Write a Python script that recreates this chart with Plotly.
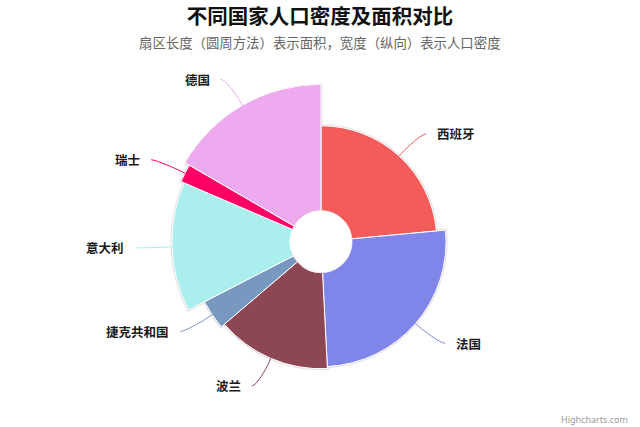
import numpy as np
import plotly.graph_objects as go

# ---- data ----
countries = ["西班牙", "法国", "波兰", "捷克共和国", "意大利", "瑞士", "德国"]
area_km2 = [505370, 551500, 312685, 78867, 301340, 41277, 357022]
density = [92.9, 118.7, 124.6, 137.5, 201.8, 214.5, 235.6]
colors = ["#f45b5b", "#8085e9", "#8d4654", "#7798bf", "#aaeeee", "#ff0066", "#eeaaee"]

title_text = "不同国家人口密度及面积对比"
subtitle_text = "扇区长度（圆周方法）表示面积，宽度（纵向）表示人口密度"

# ---- geometry (pixels) ----
W, H = 640, 427
CX, CY = 321.0, 241.7
R_OUT = 157.4
R_HOLE = 31.0
R_MIN = 46.0
LABEL_DIST = 30.0

area = np.array(area_km2, float)
widths = area / area.sum() * 360.0
starts = np.concatenate([[0.0], np.cumsum(widths)[:-1]])
centers = starts + widths / 2.0

z = np.array(density, float)
pos = np.sqrt(z / z.max())             # size by area, zMin = 0
lo = (R_HOLE - R_MIN) / (R_OUT - R_MIN)  # radial value at the hole edge

fig = go.Figure()
# faint shadow ring under the slices
fig.add_trace(go.Barpolar(
    r=pos - lo, base=[lo] * len(pos), theta=centers, width=widths,
    marker=dict(color="rgba(0,0,0,0)", line=dict(color="rgba(120,100,110,0.2)", width=3)),
    hoverinfo="skip", showlegend=False,
))
fig.add_trace(go.Barpolar(
    r=pos - lo, base=[lo] * len(pos), theta=centers, width=widths,
    marker=dict(color=colors, line=dict(color="white", width=1)),
    text=countries, hoverinfo="text", showlegend=False,
))

def to_px(rpx, ang):
    a = np.radians(ang)
    return CX + rpx * np.sin(a), CY - rpx * np.cos(a)

def paper(x, y):
    return x / W, 1 - y / H

shapes = []
annotations = []
for name, p, ang, col in zip(countries, pos, centers, colors):
    r_edge = R_MIN + p * (R_OUT - R_MIN)
    tx, ty = to_px(r_edge, ang)
    bx, by = to_px(r_edge + 5, ang)
    ax, ay = to_px(r_edge + LABEL_DIST, ang)
    s = 1 if np.sin(np.radians(ang)) > 0 else -1
    lx, ly = ax + s * 7, ay
    c1x, c1y = lx - s * 5, ly
    c2x, c2y = 2 * bx - tx, 2 * by - ty
    pts = [paper(lx, ly), paper(c1x, c1y), paper(c2x, c2y), paper(bx, by), paper(tx, ty)]
    path = "M {} {} C {} {} {} {} {} {} L {} {}".format(
        *[f"{v:.5f}" for pt in pts for v in pt])
    shapes.append(dict(type="path", xref="paper", yref="paper", path=path,
                       line=dict(color=col, width=1)))
    px_, py_ = paper(ax + s * 16, ay)
    annotations.append(dict(x=px_, y=py_, xref="paper", yref="paper", text=f"<b>{name}</b>",
                            showarrow=False, xanchor="left" if s > 0 else "right",
                            yanchor="middle",
                            font=dict(size=12.5, color="#1a1a1a", family="Noto Sans CJK SC")))

annotations.append(dict(x=0.5, y=1 - 42 / H, xref="paper", yref="paper", text=subtitle_text,
                        showarrow=False, xanchor="center", yanchor="middle",
                        font=dict(size=13.4, color="#666666", family="Noto Sans CJK SC")))
annotations.append(dict(x=630 / W, y=1 - 419 / H, xref="paper", yref="paper", text="Highcharts.com",
                        showarrow=False, xanchor="right", yanchor="middle",
                        font=dict(size=9, color="#999999", family="Noto Sans")))

fig.update_layout(
    width=W, height=H, margin=dict(l=0, r=0, t=0, b=0),
    paper_bgcolor="white", plot_bgcolor="white",
    title=dict(text=f"<b>{title_text}</b>", x=0.5, xanchor="center", y=1 - 17 / H, yanchor="middle",
               font=dict(size=20.5, color="#111111", family="Noto Sans CJK SC")),
    polar=dict(
        domain=dict(x=[(CX - R_OUT) / W, (CX + R_OUT) / W],
                    y=[1 - (CY + R_OUT) / H, 1 - (CY - R_OUT) / H]),
        hole=R_HOLE / R_OUT,
        bgcolor="rgba(0,0,0,0)",
        radialaxis=dict(range=[lo, 1], visible=False, showgrid=False),
        angularaxis=dict(visible=False, rotation=90, direction="clockwise", showgrid=False),
        bargap=0,
    ),
    shapes=shapes, annotations=annotations,
)

fig.write_html("out.html", config={"displayModeBar": False},
               post_script="document.body.style.margin='0';")
